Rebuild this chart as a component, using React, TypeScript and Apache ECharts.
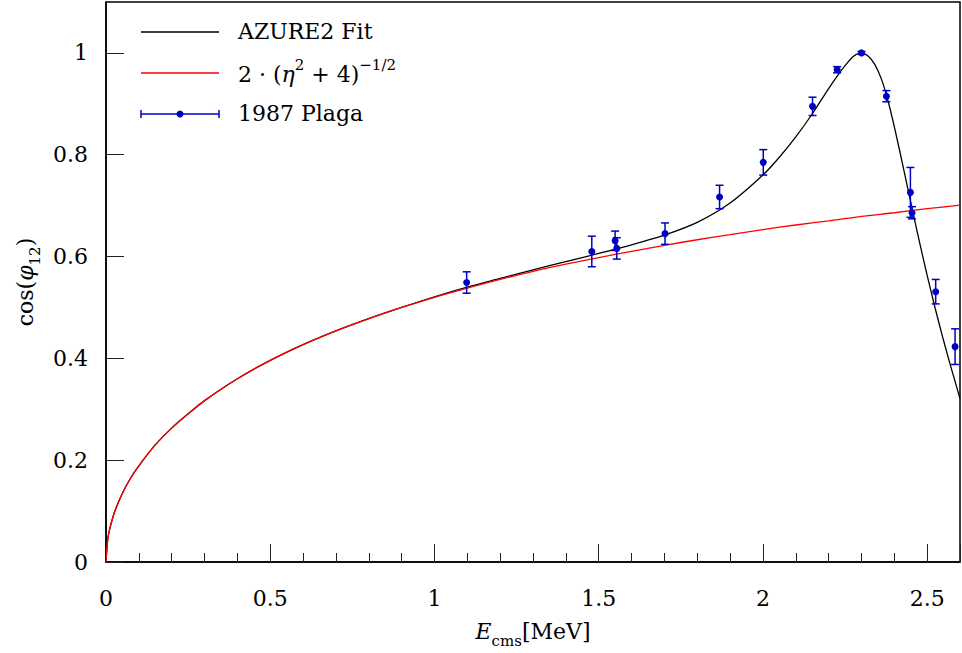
import React, { useEffect, useRef } from "react";
import * as echarts from "echarts";

// AZURE2 fit curve
const fitE = [0, 0.005, 0.01, 0.02, 0.03, 0.05, 0.075, 0.1, 0.15, 0.2, 0.25, 0.3, 0.4, 0.5, 0.6, 0.7, 0.8, 0.9, 1.0, 1.1, 1.2, 1.3, 1.4, 1.5, 1.6, 1.7, 1.8, 1.9, 2.0, 2.05, 2.1, 2.15, 2.2, 2.23, 2.25, 2.275, 2.3, 2.32, 2.34, 2.36, 2.38, 2.4, 2.42, 2.44, 2.46, 2.48, 2.5, 2.525, 2.55, 2.575, 2.6];
const fitCos = [0, 0.043, 0.061, 0.086, 0.105, 0.135, 0.165, 0.189, 0.23, 0.263, 0.291, 0.317, 0.36, 0.396, 0.427, 0.454, 0.478, 0.5, 0.521, 0.54, 0.557, 0.574, 0.59, 0.606, 0.623, 0.642, 0.667, 0.705, 0.76, 0.795, 0.835, 0.88, 0.93, 0.958, 0.975, 0.993, 1.0, 0.994, 0.978, 0.95, 0.908, 0.855, 0.797, 0.737, 0.677, 0.619, 0.563, 0.497, 0.435, 0.377, 0.321];

// Coulomb expression 2(eta^2+4)^(-1/2)
const coulE = [0, 0.005, 0.01, 0.02, 0.03, 0.05, 0.075, 0.1, 0.15, 0.2, 0.25, 0.3, 0.4, 0.5, 0.6, 0.7, 0.8, 0.9, 1.0, 1.1, 1.2, 1.3, 1.4, 1.5, 1.6, 1.7, 1.8, 1.9, 2.0, 2.1, 2.2, 2.3, 2.4, 2.5, 2.6];
const coulCos = [0, 0.043, 0.061, 0.086, 0.105, 0.135, 0.165, 0.189, 0.23, 0.263, 0.291, 0.317, 0.36, 0.396, 0.427, 0.454, 0.478, 0.5, 0.52, 0.538, 0.555, 0.571, 0.585, 0.598, 0.61, 0.622, 0.633, 0.643, 0.653, 0.662, 0.67, 0.679, 0.686, 0.694, 0.701];

// 1987 Plaga data
const plagaE = [1.098, 1.479, 1.55, 1.555, 1.702, 1.868, 2.001, 2.151, 2.226, 2.3, 2.376, 2.449, 2.454, 2.526, 2.585];
const plagaCos = [0.549, 0.61, 0.631, 0.616, 0.645, 0.717, 0.785, 0.895, 0.967, 1.0, 0.915, 0.726, 0.686, 0.531, 0.423];
const plagaErr = [0.021, 0.03, 0.019, 0.021, 0.021, 0.023, 0.025, 0.018, 0.006, 0.003, 0.011, 0.049, 0.012, 0.024, 0.035];

const xTicks = [0, 0.5, 1, 1.5, 2, 2.5];
const yTicks = [0, 0.2, 0.4, 0.6, 0.8, 1];

const FONT = "DejaVu Serif";
const FS = 22;
const BLUE = "#0000c0";

export default function App() {
  const ref = useRef<HTMLDivElement>(null);
  useEffect(() => {
    if (!ref.current) return;
    const chart = echarts.init(ref.current, null, { renderer: "svg" });
    const errData = plagaE.map((e, i) => [e, plagaCos[i], plagaCos[i] - plagaErr[i], plagaCos[i] + plagaErr[i]]);
    const rich = {
      n: { fontFamily: FONT, fontSize: FS, color: "#000", lineHeight: 34 },
      i: { fontFamily: FONT, fontSize: FS, fontStyle: "italic", color: "#000", lineHeight: 34 },
      sub: { fontFamily: FONT, fontSize: 15, color: "#000", lineHeight: 18, verticalAlign: "bottom" },
      sup: { fontFamily: FONT, fontSize: 15, color: "#000", lineHeight: 12, verticalAlign: "top" },
    };
    const option: any = {
      animation: false,
      backgroundColor: "#fff",
      textStyle: { fontFamily: FONT },
      grid: {
        left: 106,
        right: 2,
        top: 2,
        bottom: 90,
        show: true,
        borderColor: "#000",
        borderWidth: 1.5,
        backgroundColor: "transparent",
      },
      xAxis: {
        type: "value",
        min: 0,
        max: 2.6,
        interval: 0.5,
        splitLine: { show: false },
        axisLine: { lineStyle: { color: "#000", width: 1.5 } },
        axisTick: { inside: true, length: 18, lineStyle: { color: "#222", width: 1 } },
        minorTick: { show: true, splitNumber: 5, length: 9, lineStyle: { color: "#222", width: 1 } },
        axisLabel: {
          margin: 25,
          fontFamily: FONT,
          fontSize: FS,
          color: "#000",
          showMaxLabel: false,
          formatter: (v: number) => (xTicks.some((t) => Math.abs(t - v) < 1e-6) ? String(v) : ""),
        },
        name: "{i|E}{sub|cms}{n|[MeV]}",
        nameLocation: "middle",
        nameGap: 52,
        nameTextStyle: { rich },
      },
      yAxis: {
        type: "value",
        min: 0,
        max: 1.1,
        interval: 0.2,
        splitLine: { show: false },
        axisLine: { lineStyle: { color: "#000", width: 1.5 } },
        axisTick: { inside: true, length: 18, lineStyle: { color: "#222", width: 1 } },
        axisLabel: {
          margin: 18,
          fontFamily: FONT,
          fontSize: FS,
          color: "#000",
          showMaxLabel: false,
          formatter: (v: number) => (yTicks.some((t) => Math.abs(t - v) < 1e-6) ? String(v) : ""),
        },
        name: "{n|cos(}{i|φ}{sub|12}{n|)}",
        nameLocation: "middle",
        nameRotate: 90,
        nameGap: 52,
        nameTextStyle: { rich },
      },
      series: [
        {
          name: "AZURE2 Fit",
          type: "line",
          data: fitE.map((e, i) => [e, fitCos[i]]),
          showSymbol: false,
          smooth: 0.25,
          lineStyle: { color: "#000", width: 1.3 },
          z: 2,
        },
        {
          name: "Coulomb",
          type: "line",
          data: coulE.map((e, i) => [e, coulCos[i]]),
          showSymbol: false,
          smooth: 0.25,
          lineStyle: { color: "#ff0000", width: 1.3 },
          z: 3,
        },
        {
          name: "1987 Plaga",
          type: "custom",
          data: errData,
          z: 4,
          renderItem: (params: any, api: any) => {
            const x = api.value(0);
            const p = api.coord([x, api.value(1)]);
            const lo = api.coord([x, api.value(2)]);
            const hi = api.coord([x, api.value(3)]);
            const st = { stroke: BLUE, lineWidth: 1.5 };
            return {
              type: "group",
              children: [
                { type: "line", shape: { x1: p[0], y1: lo[1], x2: p[0], y2: hi[1] }, style: st },
                { type: "line", shape: { x1: p[0] - 4, y1: lo[1], x2: p[0] + 4, y2: lo[1] }, style: st },
                { type: "line", shape: { x1: p[0] - 4, y1: hi[1], x2: p[0] + 4, y2: hi[1] }, style: st },
                { type: "circle", shape: { cx: p[0], cy: p[1], r: 3.5 }, style: { fill: BLUE } },
              ],
            };
          },
        },
      ],
      graphic: [
        { type: "line", shape: { x1: 141, y1: 32, x2: 219, y2: 32 }, style: { stroke: "#000", lineWidth: 1.3 } },
        { type: "line", shape: { x1: 141, y1: 73, x2: 219, y2: 73 }, style: { stroke: "#ff0000", lineWidth: 1.3 } },
        { type: "line", shape: { x1: 141, y1: 114, x2: 219, y2: 114 }, style: { stroke: BLUE, lineWidth: 1.5 } },
        { type: "line", shape: { x1: 141, y1: 110, x2: 141, y2: 118 }, style: { stroke: BLUE, lineWidth: 1.5 } },
        { type: "line", shape: { x1: 219, y1: 110, x2: 219, y2: 118 }, style: { stroke: BLUE, lineWidth: 1.5 } },
        { type: "circle", shape: { cx: 180, cy: 114, r: 3.5 }, style: { fill: BLUE } },
        {
          type: "text",
          x: 238,
          y: 31,
          style: { text: "AZURE2 Fit", fontFamily: FONT, fontSize: FS, fill: "#000", verticalAlign: "middle" },
        },
        {
          type: "text",
          x: 238,
          y: 74,
          style: {
            text: "{n|2 · (}{i|η}{sup|2}{n| + 4)}{sup|−1/2}",
            rich,
            verticalAlign: "middle",
          },
        },
        {
          type: "text",
          x: 238,
          y: 113,
          style: { text: "1987 Plaga", fontFamily: FONT, fontSize: FS, fill: "#000", verticalAlign: "middle" },
        },
      ],
    };
    chart.setOption(option);
    return () => chart.dispose();
  }, []);
  return <div ref={ref} style={{ position: "absolute", left: 0, top: 0, width: 962, height: 653 }} />;
}
